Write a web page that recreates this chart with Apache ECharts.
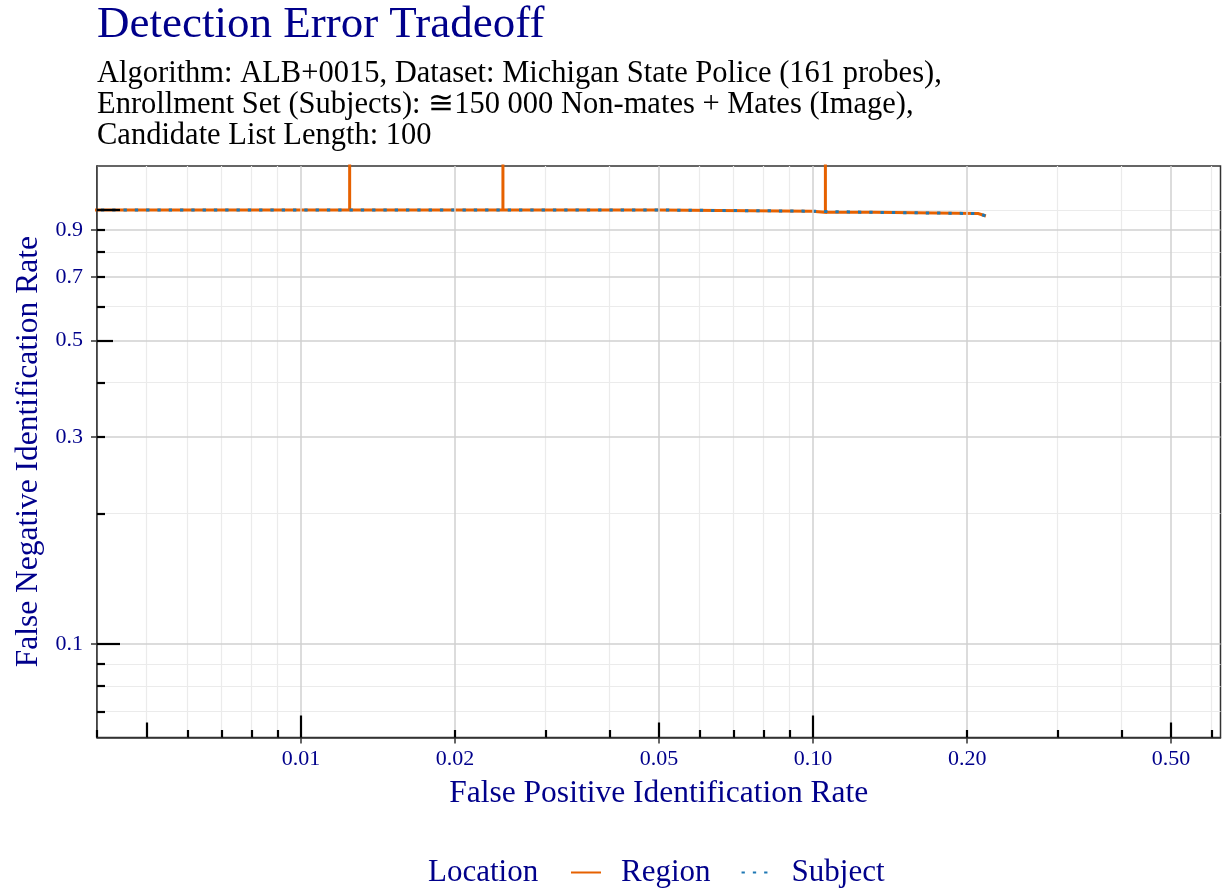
<!DOCTYPE html>
<html>
<head>
<meta charset="utf-8">
<script src="https://cdn.jsdelivr.net/npm/echarts@6/dist/echarts.min.js"></script>
<style>
  html, body { margin: 0; padding: 0; background: #ffffff; }
  #chart { width: 1223px; height: 892px; }
</style>
</head>
<body>
<div id="chart"></div>
<script>
// ---------------- data ----------------
const titleText = 'Detection Error Tradeoff';
const subtitleLines = [
  'Algorithm: ALB+0015, Dataset: Michigan State Police (161 probes),',
  'Enrollment Set (Subjects): \u2245150 000 Non-mates + Mates (Image),',
  'Candidate List Length: 100'
];
const xAxisName = 'False Positive Identification Rate';
const yAxisName = 'False Negative Identification Rate';
const legendTitle = 'Location';
const seriesNames = ['Region', 'Subject'];

// FPIR / FNIR pairs (step curves)
const fpirRegion = [0.003, 0.01245, 0.01245, 0.01245, 0.0248, 0.0248, 0.0248, 0.0498, 0.0498, 0.0996, 0.0996, 0.1057, 0.1057, 0.1057, 0.1306, 0.1306, 0.2101, 0.2175];
const fnirRegion = [1.0, 1.0, 1.6, 1.0, 1.0, 1.6, 1.0, 1.0, 0.9938, 0.9938, 0.9876, 0.9876, 1.6, 0.9876, 0.9876, 0.9814, 0.9814, 0.9689];
const fpirSubject = [0.003, 0.0498, 0.0498, 0.0996, 0.0996, 0.1306, 0.1306, 0.2101, 0.2175];
const fnirSubject = [1.0, 1.0, 0.9938, 0.9938, 0.9876, 0.9876, 0.9814, 0.9814, 0.9689];

// axis breaks
const xLabelValues = [0.01, 0.02, 0.05, 0.1, 0.2, 0.5];
const xTickLabels = ['0.01', '0.02', '0.05', '0.10', '0.20', '0.50'];
const yLabelValues = [0.1, 0.3, 0.5, 0.7, 0.9];
const yTickLabels = ['0.1', '0.3', '0.5', '0.7', '0.9'];
const xMinorBreaks = [0.004, 0.005, 0.006, 0.007, 0.008, 0.009, 0.03, 0.04, 0.06, 0.07, 0.08, 0.09, 0.3, 0.4, 0.6];
const yMinorBreaks = [0.07, 0.08, 0.09, 0.2, 0.4, 0.6, 0.8, 1.0];
const xRange = [0.003998, 0.6245];
const yRange = [0.0609, 1.263];

// ---------------- helpers ----------------
const L = Math.log10;
const near = (a, b) => Math.abs(a - b) < 1e-6;
function logTicks(lo, hi) {
  const long = [], mid = [], short = [];
  for (let k = Math.floor(L(lo)) - 1; k <= Math.ceil(L(hi)); k++) {
    for (let m = 1; m <= 9; m++) {
      const v = m * Math.pow(10, k);
      if (v < lo || v > hi) continue;
      const lv = L(v);
      if (m === 1) long.push(lv); else if (m === 5) mid.push(lv); else short.push(lv);
    }
  }
  return { long, mid, short };
}
const xLog = logTicks(xRange[0], xRange[1]);
const yLog = logTicks(yRange[0], yRange[1]);

const FONT = 'Liberation Serif';
const BLUE_TXT = '#00008B';
const AXIS_COL = '#333333';
const MAJOR_GRID = '#d0d0d0';
const MINOR_GRID = '#ebebeb';
const ORANGE = '#E66100';
const BLUE = '#1F78B4';

function baseAxis(isX) {
  const r = isX ? xRange : yRange;
  return {
    type: 'value', gridIndex: 0, min: L(r[0]), max: L(r[1]),
    position: isX ? 'bottom' : 'left',
    axisLine: { show: false, onZero: false }, axisLabel: { show: false },
    axisTick: { show: false }, splitLine: { show: false },
    minorTick: { show: false }, minorSplitLine: { show: false },
    axisPointer: { show: false }
  };
}
function tickAxis(isX, vals, len) {
  const a = baseAxis(isX);
  a.z = 6;
  a.axisTick = { show: true, inside: true, length: len, customValues: vals,
    lineStyle: { color: '#000000', width: 2.2 } };
  a.axisLabel = { show: false, customValues: vals };
  return a;
}
function gridAxis(isX, vals, color, width) {
  const a = baseAxis(isX);
  a.axisTick = { show: false, customValues: vals };
  a.axisLabel = { show: false, customValues: vals };
  a.splitLine = { show: true, lineStyle: { color: color, width: width } };
  return a;
}
function mainAxis(isX) {
  const a = baseAxis(isX);
  const vals = (isX ? xLabelValues : yLabelValues).map(L);
  const labs = isX ? xTickLabels : yTickLabels;
  a.z = 5;
  a.name = isX ? xAxisName : yAxisName;
  a.nameLocation = 'middle';
  a.nameGap = isX ? 40.5 : 45;
  a.nameTextStyle = { fontFamily: FONT, fontSize: 31.5, lineHeight: 31, color: BLUE_TXT };
  a.axisLine = { show: true, onZero: false, lineStyle: { color: AXIS_COL, width: 1.5 } };
  a.axisTick = { show: true, inside: false, length: 6, customValues: vals,
    lineStyle: { color: AXIS_COL, width: 1.5 } };
  a.axisLabel = { show: true, customValues: vals, margin: isX ? 11 : 14,
    fontFamily: FONT, fontSize: 22, lineHeight: 22, color: BLUE_TXT,
    formatter: function (v) {
      for (let i = 0; i < vals.length; i++) if (near(vals[i], v)) return labs[i];
      return '';
    } };
  a.splitLine = { show: true, lineStyle: { color: MAJOR_GRID, width: 1.5 } };
  return a;
}

const xAxes = [
  gridAxis(true, xMinorBreaks.map(L), MINOR_GRID, 1.2),
  mainAxis(true),
  tickAxis(true, xLog.long, 22),
  tickAxis(true, xLog.mid, 15),
  tickAxis(true, xLog.short, 7.5)
];
const yAxes = [
  gridAxis(false, yMinorBreaks.map(L), MINOR_GRID, 1.2),
  mainAxis(false),
  tickAxis(false, yLog.long, 23),
  tickAxis(false, yLog.mid, 16),
  tickAxis(false, yLog.short, 8)
];

const toPts = (xs, ys) => xs.map((x, i) => [L(x), L(ys[i])]);

const option = {
  animation: false,
  backgroundColor: '#ffffff',
  textStyle: { fontFamily: FONT },
  title: [
    {
      text: titleText,
      subtext: subtitleLines.join('\n'),
      left: 97, top: 3.5, padding: 0, itemGap: 10.4,
      textStyle: { fontFamily: FONT, fontSize: 45, lineHeight: 44, fontWeight: 'normal', color: BLUE_TXT },
      subtextStyle: { fontFamily: FONT, fontSize: 30.5, lineHeight: 31, color: '#000000' }
    },
    {
      text: legendTitle, left: 428, top: 858, padding: 0,
      textStyle: { fontFamily: FONT, fontSize: 31, lineHeight: 30, fontWeight: 'normal', color: BLUE_TXT }
    }
  ],
  legend: {
    data: seriesNames,
    left: 570, top: 857, padding: 0,
    itemWidth: 30, itemHeight: 14, itemGap: 30,
    itemStyle: { opacity: 0 },
    textStyle: { fontFamily: FONT, fontSize: 31, lineHeight: 30, color: BLUE_TXT, padding: [0, 0, 0, 15] }
  },
  grid: {
    left: 97, right: 2.5, top: 166, bottom: 154.5,
    show: true, backgroundColor: '#ffffff', borderColor: AXIS_COL, borderWidth: 1.5,
    containLabel: false
  },
  xAxis: xAxes,
  yAxis: yAxes,
  series: [
    {
      name: seriesNames[0], type: 'line', xAxisIndex: 1, yAxisIndex: 1,
      data: toPts(fpirRegion, fnirRegion),
      showSymbol: false, symbol: 'none', clip: true, z: 3,
      lineStyle: { color: ORANGE, width: 3, cap: 'butt', join: 'miter' },
      itemStyle: { color: ORANGE }
    },
    {
      name: seriesNames[1], type: 'line', xAxisIndex: 1, yAxisIndex: 1,
      data: toPts(fpirSubject, fnirSubject),
      showSymbol: false, symbol: 'none', clip: true, z: 4,
      lineStyle: { color: BLUE, width: 3, type: [3.3, 8], cap: 'butt' },
      itemStyle: { color: BLUE }
    }
  ]
};

const chart = echarts.init(document.getElementById('chart'), null, { renderer: 'canvas' });
chart.setOption(option);
</script>
</body>
</html>
